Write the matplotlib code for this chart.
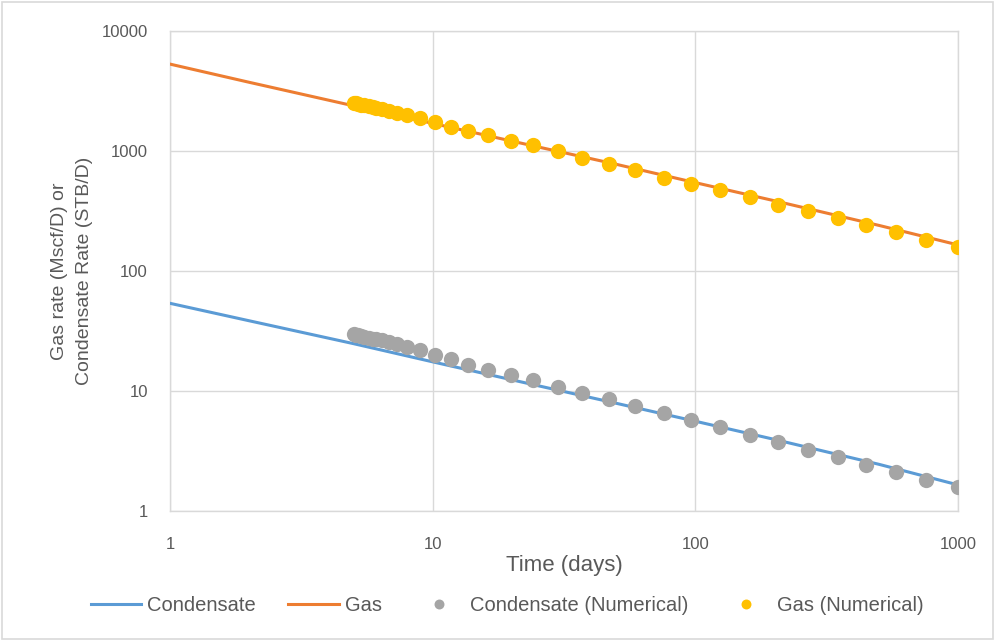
"""
gas / condensate rate vs time, log-log
"""

import matplotlib as mpl
import matplotlib.pyplot as plt
from matplotlib.patches import Rectangle

mpl.rcParams['font.family'] = ['Liberation Sans Narrow', 'Liberation Sans', 'DejaVu Sans']

# analytical curves
t_line = [1, 2, 5, 10, 20, 50, 100, 200, 500, 1000]
gas_line = [5300, 3740, 2380, 1700, 1210, 775, 545, 385, 240, 165]
cond_line = [53.8, 38.5, 24.8, 17.5, 12.4, 7.9, 5.6, 3.95, 2.45, 1.65]

# numerical results
t_num = [5.0, 5.1, 5.2, 5.35, 5.5, 5.7, 5.9, 6.1, 6.4, 6.8, 7.34, 8.0, 8.95,
         10.2, 11.7, 13.6, 16.2, 19.8, 24.1, 29.9, 37.0, 47.1, 59.1, 75.9,
         96.6, 124, 161, 207, 268, 348, 446, 580, 753, 1000]
gas_num = [2520, 2490, 2460, 2430, 2400, 2360, 2320, 2280, 2240, 2160, 2080,
           1990, 1880, 1750, 1590, 1466, 1349, 1218, 1114, 994, 881, 780, 696,
           600, 535, 471, 412, 356, 315, 274, 243, 211, 183, 159]
cond_num = [29.8, 29.5, 29.1, 28.7, 28.3, 27.8, 27.3, 26.9, 26.4, 25.8, 24.6,
            23.4, 21.8, 19.9, 18.4, 16.5, 15.1, 13.6, 12.4, 10.9, 9.69, 8.58,
            7.50, 6.59, 5.73, 4.98, 4.33, 3.73, 3.22, 2.80, 2.43, 2.10, 1.82, 1.60]

x_ticks = [1, 10, 100, 1000]
y_ticks = [1, 10, 100, 1000, 10000]

GRID = '#d9d9d9'
TXT = '#595959'

if __name__ == "__main__":
    fig = plt.figure(figsize=(9.95, 6.41), dpi=100)
    ax = fig.add_axes([0.1709, 0.2028, 0.7919, 0.7488])

    ax.plot(t_line, cond_line, color='#5B9BD5', lw=2.2, label='Condensate', zorder=3)
    ax.plot(t_line, gas_line, color='#ED7D31', lw=2.2, label='Gas', zorder=3)
    ax.plot(t_num, cond_num, 'o', color='#A5A5A5', ms=11, mew=0,
            label='Condensate (Numerical)', zorder=4)
    ax.plot(t_num, gas_num, 'o', color='#FFC000', ms=11, mew=0,
            label='Gas (Numerical)', zorder=4)

    ax.set_xscale('log')
    ax.set_yscale('log')
    ax.set_xlim(1, 1000)
    ax.set_ylim(1, 10000)
    ax.set_xticks(x_ticks, [str(v) for v in x_ticks])
    ax.set_yticks(y_ticks, [str(v) for v in y_ticks])
    ax.minorticks_off()
    ax.tick_params(length=0, labelsize=12, colors=TXT)
    ax.tick_params(axis='x', pad=19)
    ax.tick_params(axis='y', pad=16)

    ax.grid(True, color=GRID, lw=1, zorder=0)
    for s in ax.spines.values():
        s.set_color(GRID)
        s.set_linewidth(1)

    ax.set_xlabel('Time (days)', fontsize=16, color=TXT, labelpad=2)
    ax.set_ylabel('Gas rate (Mscf/D) or\nCondensate Rate (STB/D)',
                  fontsize=14, color=TXT, labelpad=6, linespacing=1.65)

    leg = fig.legend(loc='center', bbox_to_anchor=(0.51, 0.055), ncol=4,
                     frameon=False, fontsize=14.5, markerscale=0.65,
                     handlelength=2.5, columnspacing=1.6, handletextpad=0.3)
    for t in leg.get_texts():
        t.set_color(TXT)

    fig.patches.append(Rectangle((0.002, 0.003), 0.996, 0.994, transform=fig.transFigure,
                                 fill=False, edgecolor=GRID, lw=1.2))

    fig.savefig('out.png', dpi=100)
